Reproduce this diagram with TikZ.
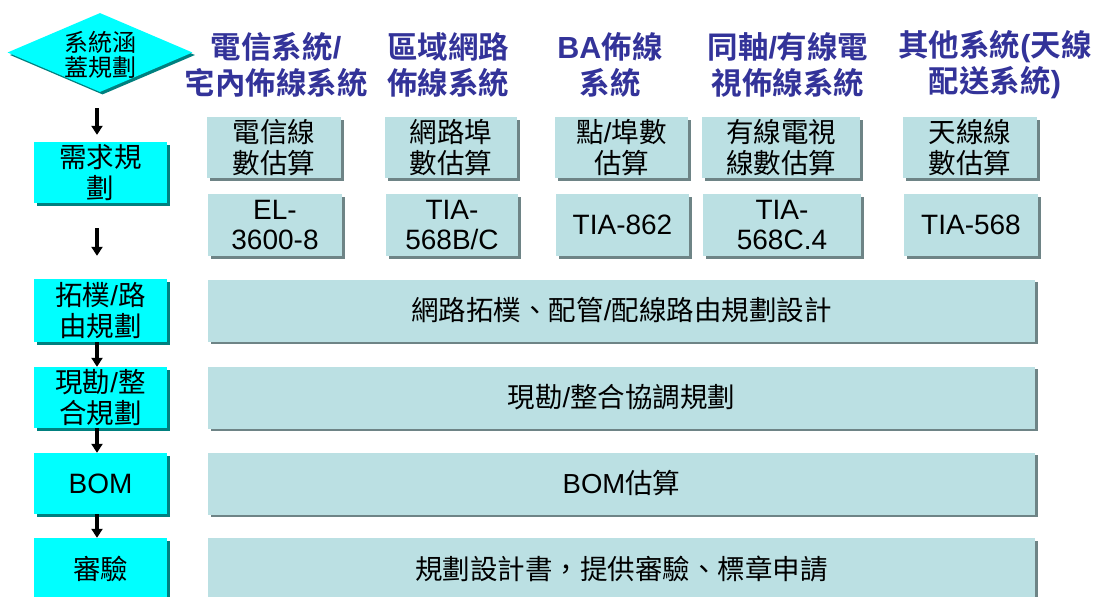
\documentclass[tikz,border=0pt]{standalone}
\usepackage{fontspec}
\setmainfont{Noto Sans CJK TC}[BoldFont={Noto Sans CJK TC Bold}]
\newfontfamily\lat{Liberation Sans}
\usetikzlibrary{shapes.geometric}
\usetikzlibrary{arrows.meta}
\usetikzlibrary{shadows}
\definecolor{cyanfond}{HTML}{00FFFF}
\definecolor{cyanombre}{HTML}{00807F}
\definecolor{bleupale}{HTML}{BBE0E3}
\definecolor{bleuombre}{HTML}{6E8486}
\definecolor{bleutitre}{HTML}{333399}
\newcommand{\en}[1]{{\lat #1}}

\begin{document}
\begin{tikzpicture}[x=1pt,y=-1pt]
% styles des noeuds
\tikzstyle{choix} = [diamond, fill=cyanfond, minimum width=185pt, minimum height=79pt, inner sep=0pt, drop shadow={shadow xshift=2.5pt, shadow yshift=-2.5pt, fill=cyanombre, opacity=1}]
\tikzstyle{etape} = [rectangle, fill=cyanfond, minimum width=133pt, inner sep=0pt, align=center, font=\fontsize{27.5}{31}\selectfont, drop shadow={shadow xshift=2.5pt, shadow yshift=-2.5pt, fill=cyanombre, opacity=1}]
\tikzstyle{bloc} = [rectangle, fill=bleupale, inner sep=0pt, align=center, font=\fontsize{27.5}{31}\selectfont, drop shadow={shadow xshift=2.5pt, shadow yshift=-2.5pt, fill=bleuombre, opacity=1}]
\tikzstyle{norme} = [bloc, font=\lat\fontsize{28}{30}\selectfont]
\tikzstyle{large} = [bloc, minimum width=827pt, minimum height=62pt]
\tikzstyle{entete} = [align=center, text=bleutitre, font=\fontsize{30.5}{36}\selectfont\bfseries]
% style des fleches
\tikzstyle{suite} = [-{Triangle[width=11pt,length=9pt]}, line width=3.4pt]

\useasboundingbox (0,0) rectangle (1093,597);
\clip (0,0) rectangle (1093,597);

%% colonne des etapes
\node[choix, label={[align=center, font=\fontsize{24}{25}\selectfont, yshift=-2pt]center:系統涵\\蓋規劃}] (portee) at (100,52.5) {};
\node[etape, minimum height=61pt] (besoin) at (100.5,172.5) {需求規\\劃};
\node[etape, minimum height=63pt] (topo) at (100.5,310.5) {拓樸\en{/}路\\由規劃};
\node[etape, minimum height=61pt] (terrain) at (100.5,397.5) {現勘\en{/}整\\合規劃};
\node[etape, minimum height=61pt, font=\lat\fontsize{28}{31}\selectfont] (bom) at (100.5,483.5) {BOM};
\node[etape, minimum height=62pt] (audit) at (100.5,569) {審驗};

%% titres des systemes
\node[entete] (tel) at (276,65) {電信系統\en{/}\\宅內佈線系統};
\node[entete] (lan) at (448,65) {區域網路\\佈線系統};
\node[entete] (ba) at (610,65) {\en{BA}佈線\\系統};
\node[entete] (catv) at (788,65) {同軸\en{/}有線電\\視佈線系統};
\node[entete] (autre) at (995,65) {其他系統\en{(}天線\\配送系統\en{)}};

%% estimations
\node[bloc, minimum width=134pt, minimum height=61pt] (estTel) at (274,147.5) {電信線\\數估算};
\node[bloc, minimum width=132pt, minimum height=61pt] (estLan) at (451,147.5) {網路埠\\數估算};
\node[bloc, minimum width=133pt, minimum height=61pt] (estBa) at (621.5,147.5) {點\en{/}埠數\\估算};
\node[bloc, minimum width=158pt, minimum height=61pt] (estCatv) at (781,147.5) {有線電視\\線數估算};
\node[bloc, minimum width=134pt, minimum height=61pt] (estAutre) at (970,147.5) {天線線\\數估算};

%% normes
\node[norme, minimum width=134pt, minimum height=62pt] (normTel) at (275,225) {EL-\\3600-8};
\node[norme, minimum width=132pt, minimum height=62pt] (normLan) at (452,225) {TIA-\\568B/C};
\node[norme, minimum width=133pt, minimum height=62pt] (normBa) at (622.5,225) {TIA-862};
\node[norme, minimum width=158pt, minimum height=62pt] (normCatv) at (782,225) {TIA-\\568C.4};
\node[norme, minimum width=134pt, minimum height=62pt] (normAutre) at (971,225) {TIA-568};

%% taches
\node[large] (conception) at (621.5,310.5) {網路拓樸、配管\en{/}配線路由規劃設計};
\node[large] (coordination) at (621.5,397.5) {現勘\en{/}整合協調規劃};
\node[large] (devis) at (621.5,483.5) {\en{BOM}估算};
\node[large] (dossier) at (621.5,569) {規劃設計書，提供審驗、標章申請};

%% fleches
\draw[suite, shorten <=16pt, shorten >=7pt] ([xshift=-3pt]portee.south) -- ([xshift=-3.5pt]besoin.north);
\draw[suite, shorten <=25pt, shorten >=23pt] ([xshift=-3.5pt]besoin.south) -- ([xshift=-3.5pt]topo.north);
\draw[suite] ([xshift=-3.5pt]topo.south) -- ([xshift=-3.5pt]terrain.north);
\draw[suite] ([xshift=-3.5pt]terrain.south) -- ([xshift=-3.5pt]bom.north);
\draw[suite] ([xshift=-3.5pt]bom.south) -- ([xshift=-3.5pt]audit.north);
\end{tikzpicture}
\end{document}
